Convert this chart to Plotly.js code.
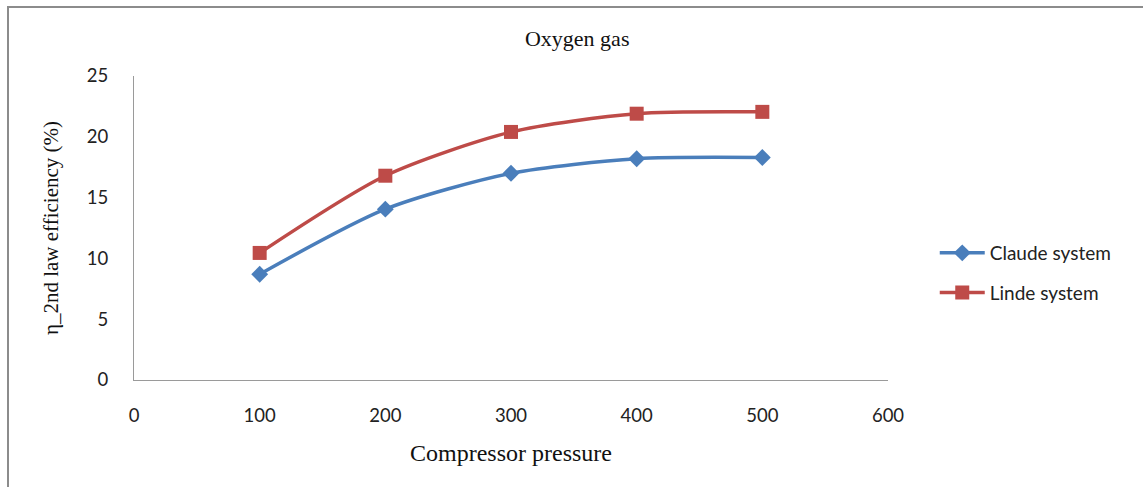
<!DOCTYPE html>
<html>
<head>
<meta charset="utf-8">
<script src="https://cdn.plot.ly/plotly-3.0.1.min.js"></script>
<style>
  html, body { margin: 0; padding: 0; background: #fff; }
  #wrap { position: relative; width: 1143px; height: 487px; }
  #chart { width: 1143px; height: 487px; }
  #frame { position: absolute; left: 7px; top: 6px; right: 0; bottom: 0;
           border-top: 2px solid #8c8c8c; border-left: 2px solid #8c8c8c; pointer-events: none; }
</style>
</head>
<body>
<div id="wrap">
  <div id="chart"></div>
  <div id="frame"></div>
</div>
<script>
const pressure = [100, 200, 300, 400, 500];
const claude = [8.7, 14.05, 17.0, 18.2, 18.3];
const linde = [10.45, 16.8, 20.4, 21.9, 22.05];
const seriesNames = ['Claude system', 'Linde system'];
const xTicks = [0, 100, 200, 300, 400, 500, 600];
const yTicks = [0, 5, 10, 15, 20, 25];

const tickFont = {family: 'Lato, "Open Sans", sans-serif', size: 18.5, color: '#222'};
const serif = '"Liberation Serif", "Times New Roman", serif';

const traces = [
  {
    x: pressure, y: claude, name: seriesNames[0], type: 'scatter', mode: 'lines+markers',
    legendgroup: 'c',
    line: {color: '#4a7ebb', width: 3.5, shape: 'spline', smoothing: 0.75},
    marker: {symbol: 'diamond', size: 13, color: '#4a7ebb'}
  },
  {
    x: pressure, y: linde, name: seriesNames[1], type: 'scatter', mode: 'lines+markers',
    legendgroup: 'l',
    line: {color: '#be4b48', width: 3.5, shape: 'spline', smoothing: 0.75},
    marker: {symbol: 'square', size: 14, color: '#be4b48'}
  }
];

const layout = {
  width: 1143, height: 487,
  margin: {l: 134, r: 255, t: 76, b: 107, pad: 0},
  paper_bgcolor: '#fff', plot_bgcolor: '#fff',
  showlegend: true,
  title: {text: 'Oxygen gas', font: {family: serif, size: 22, color: '#111'},
          x: 0.505, xanchor: 'center', y: 0.922, yanchor: 'middle'},
  xaxis: {
    range: [0, 600], tickvals: xTicks, ticktext: xTicks.map(String),
    showgrid: false, zeroline: false, showline: true, linecolor: '#9a9a9a', linewidth: 1,
    ticks: 'outside', ticklen: 19, tickcolor: 'rgba(0,0,0,0)', tickfont: tickFont, automargin: false,
    title: {text: 'Compressor pressure', font: {family: serif, size: 24, color: '#111'}, standoff: 18}
  },
  yaxis: {
    range: [0, 25], tickvals: yTicks, ticktext: yTicks.map(String),
    showgrid: false, zeroline: false, showline: true, linecolor: '#9a9a9a', linewidth: 1,
    ticks: 'outside', ticklen: 21, tickcolor: 'rgba(0,0,0,0)', tickfont: tickFont, automargin: false,
    title: {text: 'η_2nd law efficiency (%)', font: {family: serif, size: 21, color: '#111'}, standoff: 22}
  },
  legend: {
    x: 1.062, y: 0.352, xanchor: 'left', yanchor: 'middle',
    font: {family: 'Lato, "Open Sans", sans-serif', size: 19, color: '#222'},
    bgcolor: 'rgba(0,0,0,0)', tracegroupgap: 12, itemwidth: 45
  }
};

Plotly.newPlot('chart', traces, layout, {displayModeBar: false, staticPlot: true});
</script>
</body>
</html>
